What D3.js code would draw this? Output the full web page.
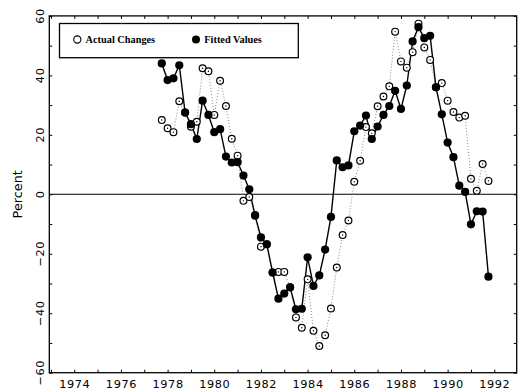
<!DOCTYPE html>
<html>
<head>
<meta charset="utf-8">
<script src="https://cdn.jsdelivr.net/npm/d3@7"></script>
<style>
  html, body { margin: 0; padding: 0; background: #fff; }
  svg { display: block; }
</style>
</head>
<body>
<svg id="chart" width="519" height="390"></svg>
<script>
// ---- data ----
const quarters = [
  1977.75,
  1978.00, 1978.25, 1978.50, 1978.75,
  1979.00, 1979.25, 1979.50, 1979.75,
  1980.00, 1980.25, 1980.50, 1980.75,
  1981.00, 1981.25, 1981.50, 1981.75,
  1982.00, 1982.25, 1982.50, 1982.75,
  1983.00, 1983.25, 1983.50, 1983.75,
  1984.00, 1984.25, 1984.50, 1984.75,
  1985.00, 1985.25, 1985.50, 1985.75,
  1986.00, 1986.25, 1986.50, 1986.75,
  1987.00, 1987.25, 1987.50, 1987.75,
  1988.00, 1988.25, 1988.50, 1988.75,
  1989.00, 1989.25, 1989.50, 1989.75,
  1990.00, 1990.25, 1990.50, 1990.75,
  1991.00, 1991.25, 1991.50, 1991.75
];
const actualChanges = [
  25.0,
  22.2, 20.9, 31.3, 27.5,
  22.7, 24.4, 42.4, 41.4,
  26.7, 38.2, 29.7, 18.7,
  13.0, -2.2, -0.9, -7.0,
  -17.6, -16.8, -26.3, -26.1,
  -26.1, -31.3, -41.4, -44.9,
  -28.6, -45.9, -51.0, -47.4,
  -38.4, -24.6, -13.7, -8.8,
  4.2, 11.3, 22.6, 20.5,
  29.6, 32.9, 36.3, 54.7,
  44.7, 42.6, 47.8, 57.4,
  49.4, 45.2, 36.0, 37.4,
  31.5, 27.7, 25.8, 26.4,
  5.2, 1.2, 10.2, 4.5
];
const fittedValues = [
  44.0,
  38.4, 39.0, 43.4, 27.5,
  23.6, 18.6, 31.5, 26.7,
  20.9, 21.9, 12.7, 10.7,
  10.8, 6.3, 1.7, -7.2,
  -14.5, -16.8, -26.3, -35.1,
  -33.4, -31.3, -38.7, -38.5,
  -21.2, -30.8, -27.3, -18.6,
  -7.6, 11.4, 9.1, 9.7,
  21.2, 23.1, 26.5, 18.6,
  22.8, 26.7, 29.7, 34.8,
  28.7, 36.6, 51.4, 56.2,
  52.5, 53.3, 36.0, 26.9,
  17.4, 12.5, 2.9, 0.8,
  -10.1, -5.7, -5.8, -27.7
];
const xTickYears = [1973,1974,1975,1976,1977,1978,1979,1980,1981,1982,1983,1984,1985,1986,1987,1988,1989,1990,1991,1992];
const xLabelYears = [1974,1976,1978,1980,1982,1984,1986,1988,1990,1992];
const yTicks = [-60,-50,-40,-30,-20,-10,0,10,20,30,40,50,60];
const yLabels = [-60,-40,-20,0,20,40,60];
const legendLabels = ["Actual Changes", "Fitted Values"];
const yTitle = "Percent";

// ---- layout ----
const svg = d3.select("#chart");
const pL = 49.3, pR = 516.7, pT = 15.9, pB = 372.7;
const x = d3.scaleLinear().domain([1972.93, 1992.96]).range([pL, pR]);
const y = d3.scaleLinear().domain([-60, 60]).range([pB, pT]);

const axisFont = "'DejaVu Sans', sans-serif";

// zero line
svg.append("line")
  .attr("x1", pL).attr("x2", pR)
  .attr("y1", y(0)).attr("y2", y(0))
  .attr("stroke", "#000").attr("stroke-width", 1.1);

// axes (ticks inward)
function styleAxis(g) {
  g.select(".domain").remove();
  g.selectAll(".tick line").attr("stroke", "#000").attr("stroke-width", 1);
}
const gBottom = svg.append("g").attr("transform", `translate(0,${pB})`)
  .call(d3.axisBottom(x).tickValues(xTickYears).tickSize(-3).tickPadding(7)
    .tickFormat(d => xLabelYears.includes(d) ? String(d) : ""));
styleAxis(gBottom);
gBottom.selectAll("text").attr("font-family", axisFont).attr("font-size", 11.3)
  .attr("fill", "#000").attr("letter-spacing", 0.6);

const gTop = svg.append("g").attr("transform", `translate(0,${pT})`)
  .call(d3.axisTop(x).tickValues(xTickYears).tickSize(-3).tickFormat(""));
styleAxis(gTop);

const gLeft = svg.append("g").attr("transform", `translate(${pL},0)`)
  .call(d3.axisLeft(y).tickValues(yTicks).tickSize(-3).tickFormat(""));
styleAxis(gLeft);

const gRight = svg.append("g").attr("transform", `translate(${pR},0)`)
  .call(d3.axisRight(y).tickValues(yTicks).tickSize(-3).tickFormat(""));
styleAxis(gRight);

// y tick labels, rotated
svg.append("g").selectAll("text").data(yLabels).join("text")
  .attr("transform", d => `translate(43.6,${y(d)}) rotate(-90)`)
  .attr("text-anchor", "middle")
  .attr("font-family", axisFont).attr("font-size", 11.3)
  .attr("letter-spacing", 0.6)
  .attr("fill", "#000")
  .text(d => d < 0 ? "\u2212" + Math.abs(d) : String(d));

// y title
svg.append("text")
  .attr("transform", `translate(21.5,${y(0)}) rotate(-90)`)
  .attr("text-anchor", "middle")
  .attr("font-family", axisFont).attr("font-size", 12.8)
  .attr("fill", "#000")
  .text(yTitle);

// frame
svg.append("rect")
  .attr("x", pL).attr("y", pT)
  .attr("width", pR - pL).attr("height", pB - pT)
  .attr("fill", "none").attr("stroke", "#000").attr("stroke-width", 1.3);

// series
const actual = quarters.map((q, i) => ({ q, v: actualChanges[i] }));
const fitted = quarters.map((q, i) => ({ q, v: fittedValues[i] }));
const line = d3.line().x(d => x(d.q)).y(d => y(d.v));

svg.append("path").datum(actual).attr("d", line)
  .attr("fill", "none").attr("stroke", "#777").attr("stroke-width", 0.9)
  .attr("stroke-dasharray", "1,2");

svg.append("path").datum(fitted).attr("d", line)
  .attr("fill", "none").attr("stroke", "#000").attr("stroke-width", 1.4);

function openMarker(sel) {
  sel.append("circle").attr("r", 3.4).attr("fill", "#fff")
    .attr("stroke", "#000").attr("stroke-width", 1.2);
  sel.append("circle").attr("r", 0.7).attr("fill", "#000");
}

const gA = svg.append("g").selectAll("g").data(actual).join("g")
  .attr("transform", d => `translate(${x(d.q)},${y(d.v)})`);
openMarker(gA);

svg.append("g").selectAll("circle").data(fitted).join("circle")
  .attr("cx", d => x(d.q)).attr("cy", d => y(d.v))
  .attr("r", 4.1).attr("fill", "#000");

// legend
const lg = svg.append("g");
lg.append("rect")
  .attr("x", 59.5).attr("y", 23.5).attr("width", 238.8).attr("height", 34.2)
  .attr("fill", "#fff").attr("stroke", "#000").attr("stroke-width", 1.3);
const la = lg.append("g").attr("transform", "translate(77.3,39.5)");
la.append("circle").attr("r", 3.6).attr("fill", "#fff").attr("stroke", "#000").attr("stroke-width", 1.1);
lg.append("circle").attr("cx", 196).attr("cy", 39.5).attr("r", 4).attr("fill", "#000");
lg.selectAll("text.leg").data(legendLabels).join("text")
  .attr("class", "leg")
  .attr("x", (d, i) => i === 0 ? 85.6 : 204.3)
  .attr("y", 43)
  .attr("font-family", "'Liberation Serif', 'DejaVu Serif', serif")
  .attr("font-weight", "bold").attr("font-size", 10.3)
  .attr("fill", "#000")
  .text(d => d);
</script>
</body>
</html>
